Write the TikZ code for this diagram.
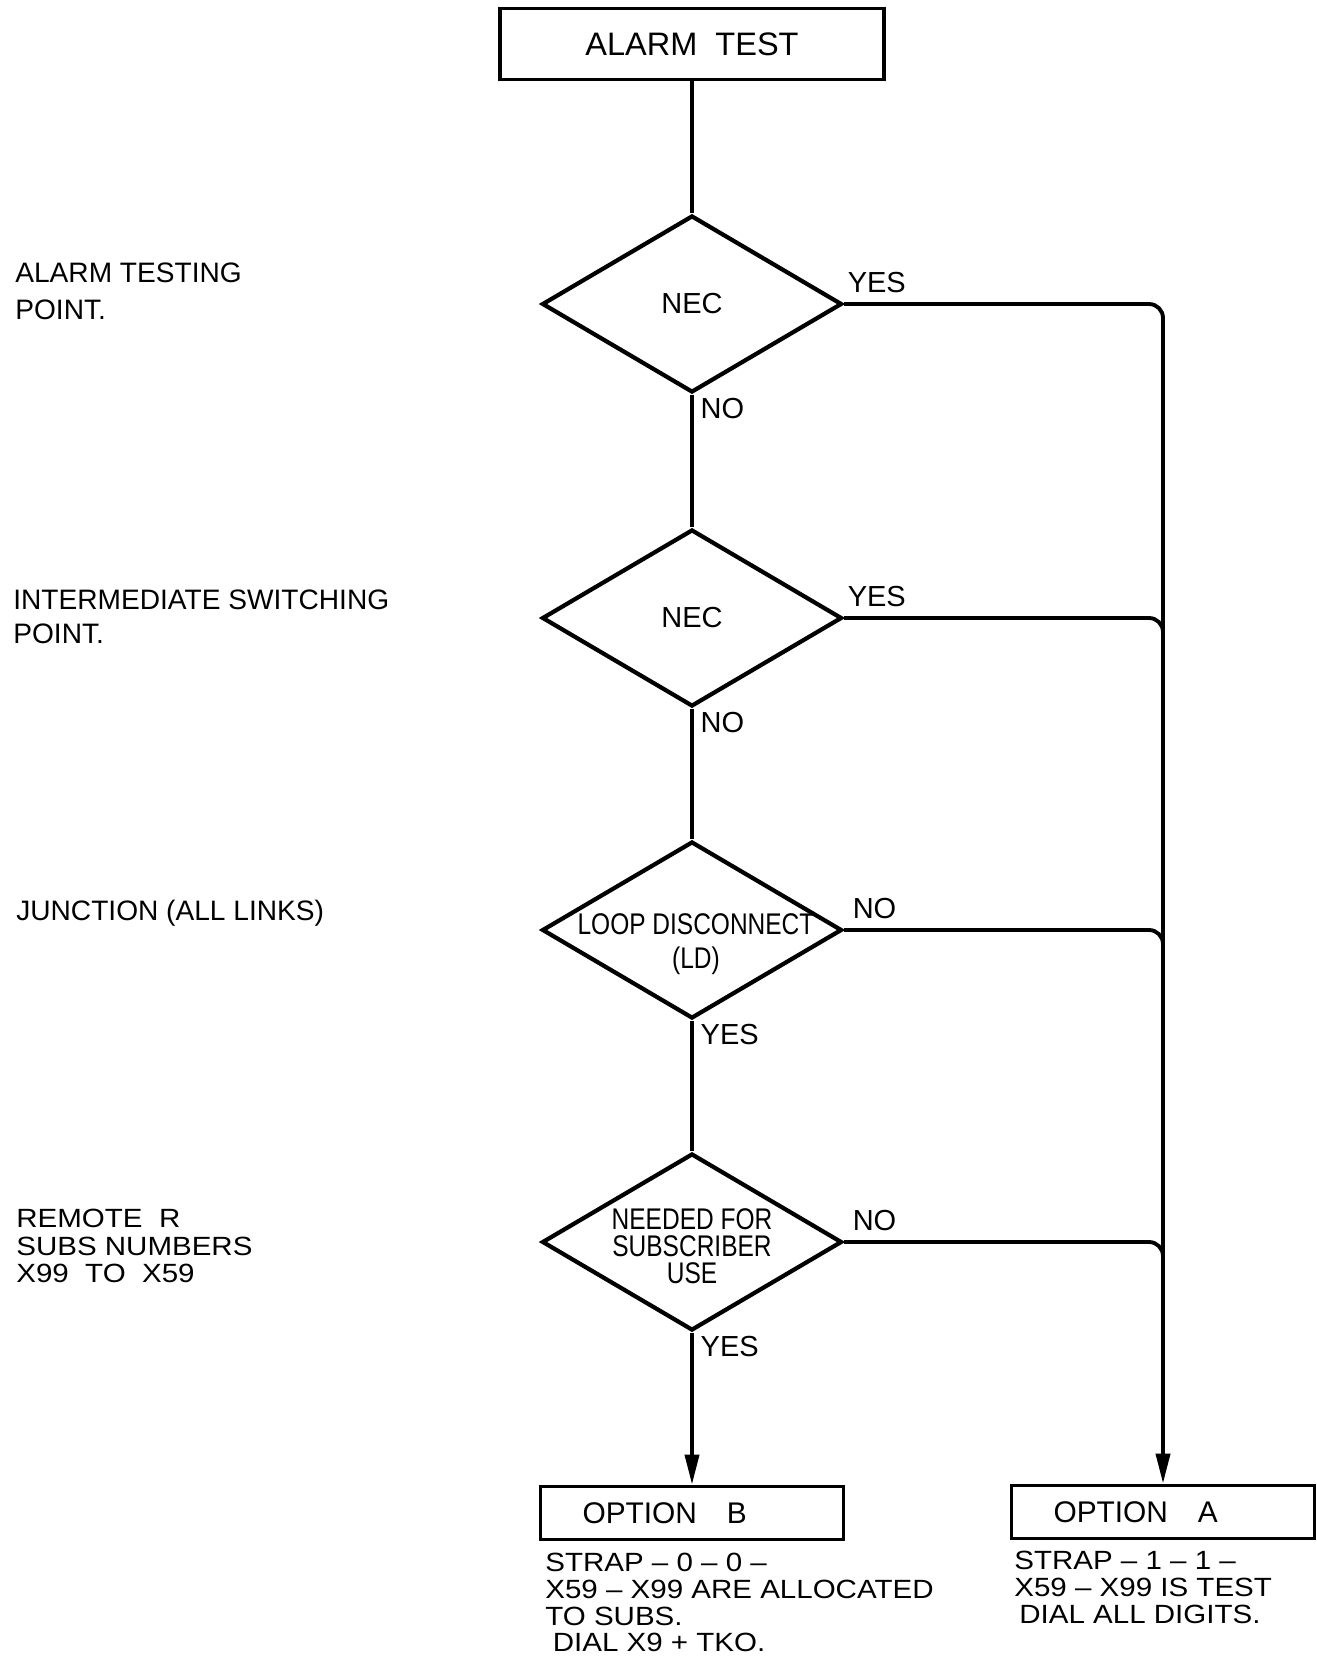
\documentclass[tikz,border=0pt]{standalone}
\usepackage{fontspec}
\setmainfont{Liberation Sans}
\newfontfamily\narrowfont{Liberation Sans}[FakeStretch=0.82, Ligatures=TeX]
\newfontfamily\widefont{Liberation Sans}[FakeStretch=1.12, Ligatures=TeX]
\usetikzlibrary{shapes.geometric,arrows.meta,calc}

\tikzset{
  fcbox/.style={draw, line width=2.2pt, minimum width=7.68cm, minimum height=1.42cm, font=\fontsize{18.5}{20}\selectfont},
  fcopt/.style={draw, line width=2.2pt, minimum height=1.06cm, text width=4.38cm, inner xsep=0.84cm, align=left, font=\fontsize{17}{19}\selectfont},
  fcdec/.style={diamond, draw, line width=2.4pt, minimum width=6cm, minimum height=3.54cm, inner sep=0pt},
  fctxt/.style={align=center, inner sep=0pt, font=\fontsize{17}{15.5}\narrowfont},
  fcyn/.style={inner sep=1pt, font=\fontsize{16.5}{18}\selectfont},
  fcside/.style={anchor=west, align=left, inner sep=0pt, font=\fontsize{16}{19}\selectfont},
  fcnote/.style={anchor=north west, align=left, inner sep=0pt, font=\fontsize{15}{15.2}\widefont},
  fcline/.style={line width=2.2pt},
  fcarr/.style={line width=2.2pt, -{Triangle[length=0.6cm, width=0.28cm]}}
}

\begin{document}
\begin{tikzpicture}[x=0.02cm, y=-0.02cm]
  \useasboundingbox (0,0) rectangle (1317,1660);

  % flow column
  \node[fcbox] (alarm) at (692,44) {ALARM\ \ TEST};
  \node[fcdec] (d1) at (692,304) {};
  \node[fcdec] (d2) at (692,618) {};
  \node[fcdec] (d3) at (692,930) {};
  \node[fcdec] (d4) at (692,1242) {};
  \node[fcopt] (optB) at (692,1513) {OPTION\quad B};
  \node[fcopt] (optA) at (1163,1512) {OPTION\quad A};

  \node[fctxt, font=\fontsize{16.5}{18}\selectfont] (t1) at (d1) {NEC};
  \node[fctxt, font=\fontsize{16.5}{18}\selectfont] (t2) at (d2) {NEC};
  \node[fctxt] (t3) at ($(d3)+(4,14)$) {LOOP DISCONNECT\\[4pt](LD)};
  \node[fctxt] (t4) at ($(d4)+(0,4)$) {NEEDED FOR\\SUBSCRIBER\\USE};

  % left hand notes
  \node[fcside] (s1) at (15,291) {ALARM TESTING\\[2pt]POINT.};
  \node[fcside] (s2) at (13,617) {INTERMEDIATE SWITCHING\\POINT.};
  \node[fcside] (s3) at (16,913) {JUNCTION (ALL LINKS)};
  \node[fcside, font=\fontsize{15}{15.5}\widefont] (s4) at (16,1246) {REMOTE\ \ R\\SUBS NUMBERS\\X99\ \ TO\ \ X59};

  % straight down
  \draw[fcline] (alarm) -- (d1);
  \draw[fcline] (d1) -- (d2) node[fcyn, pos=0, anchor=north west, xshift=0.1cm] (n1) {NO};
  \draw[fcline] (d2) -- (d3) node[fcyn, pos=0, anchor=north west, xshift=0.1cm] (n2) {NO};
  \draw[fcline] (d3) -- (d4) node[fcyn, pos=0, anchor=north west, xshift=0.1cm] (y3) {YES};
  \draw[fcarr] (d4) -- (optB) node[fcyn, pos=0, anchor=north west, xshift=0.1cm] (y4) {YES};

  % right hand bus to option A
  \draw[fcarr, rounded corners=0.28cm] (d1.east) -| (optA.north)
    node[fcyn, pos=0, anchor=south west, yshift=0.15cm] (y1) {YES};
  \draw[fcline, rounded corners=0.28cm] (d2.east) -| ($(d2.east -| optA.north)+(0,40)$)
    node[fcyn, pos=0, anchor=south west, yshift=0.15cm] (y2) {YES};
  \draw[fcline, rounded corners=0.28cm] (d3.east) -| ($(d3.east -| optA.north)+(0,40)$)
    node[fcyn, pos=0, anchor=south west, xshift=0.1cm, yshift=0.15cm] (n3) {NO};
  \draw[fcline, rounded corners=0.28cm] (d4.east) -| ($(d4.east -| optA.north)+(0,40)$)
    node[fcyn, pos=0, anchor=south west, xshift=0.1cm, yshift=0.15cm] (n4) {NO};

  % strap notes
  \node[fcnote] (noteB) at (545,1553) {STRAP -- 0 -- 0 --\\X59 -- X99 ARE ALLOCATED\\TO SUBS.\\\hspace*{0.15cm}DIAL X9 + TKO.};
  \node[fcnote] (noteA) at (1014,1551) {STRAP -- 1 -- 1 --\\X59 -- X99 IS TEST\\\hspace*{0.1cm}DIAL ALL DIGITS.};
\end{tikzpicture}
\end{document}
